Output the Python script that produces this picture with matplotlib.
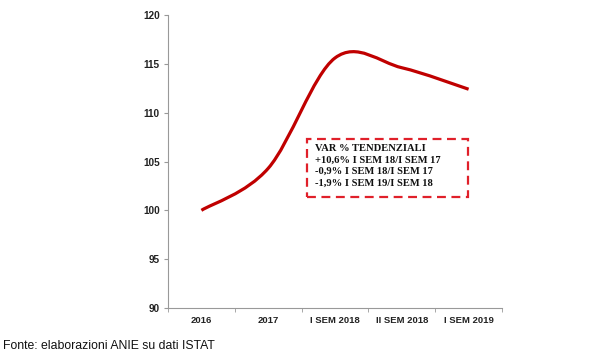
import numpy as np
import matplotlib
matplotlib.use("Agg")
import matplotlib.pyplot as plt
from matplotlib.path import Path
from matplotlib.patches import PathPatch, Rectangle

categories = ["2016", "2017", "I SEM 2018", "II SEM 2018", "I SEM 2019"]
values = [100.0, 104.3, 115.6, 114.6, 112.4]
yticks = [90, 95, 100, 105, 110, 115, 120]
box_lines = ["VAR % TENDENZIALI",
             "+10,6% I SEM 18/I SEM 17",
             "-0,9% I SEM 18/I SEM 17",
             "-1,9% I SEM 19/I SEM 18"]
source = "Fonte: elaborazioni ANIE su dati ISTAT"

fig = plt.figure(figsize=(6.02, 3.53), dpi=100)
ax = fig.add_axes([168/602, 1-308/353, (502-168)/602, (308-15)/353])

# Smoothed line (Catmull-Rom as Bezier, like Excel smoothing)
x = np.arange(len(values), dtype=float)
y = np.array(values)
P = np.column_stack([x, y])
verts = [tuple(P[0])]
codes = [Path.MOVETO]
n = len(P)
for i in range(n - 1):
    p0 = P[i-1] if i > 0 else P[i]
    p1 = P[i]
    p2 = P[i+1]
    p3 = P[i+2] if i + 2 < n else P[i+1]
    c1 = p1 + (p2 - p0) / 6
    c2 = p2 - (p3 - p1) / 6
    verts += [tuple(c1), tuple(c2), tuple(p2)]
    codes += [Path.CURVE4] * 3
ax.add_patch(PathPatch(Path(verts, codes), facecolor="none",
                       edgecolor="#C00000", lw=2.3, capstyle="butt"))

ax.set_xlim(-0.5, len(categories) - 0.5)
ax.set_ylim(90, 120)
ax.set_yticks(yticks)
ax.set_yticklabels([str(t) for t in yticks], fontsize=7.2, fontweight="bold",
                   family="Liberation Sans", color="#222222")
ax.set_xticks(x)
ax.set_xticklabels(categories, fontsize=6.8, fontweight="bold",
                   family="Liberation Sans", color="#222222")
ax.set_xticks(np.arange(-0.5, len(categories)), minor=True)
ax.tick_params(axis="x", which="major", length=0, pad=6)
ax.tick_params(axis="x", which="minor", length=3, color="#999999", direction="out")
ax.tick_params(axis="y", length=3, color="#999999", pad=3)
for s in ["top", "right"]:
    ax.spines[s].set_visible(False)
for s in ["left", "bottom"]:
    ax.spines[s].set_color("#999999")
    ax.spines[s].set_linewidth(0.8)

# annotation box (figure pixel coordinates)
x0, y0, x1, y1 = 307, 139, 468, 197
rect = Rectangle((x0/602, 1-y1/353), (x1-x0)/602, (y1-y0)/353,
                 transform=fig.transFigure, facecolor="white",
                 edgecolor="#E0202A", lw=1.6, ls=(0, (4, 2.5)))
fig.add_artist(rect)
fig.text(315/602, 1-144/353, "\n".join(box_lines), fontsize=7.6,
         fontweight="bold", family="Liberation Serif", color="#111111",
         va="top", ha="left", linespacing=1.36)

fig.text(3/602, 1-346/353, source, fontsize=8.8, family="Liberation Sans",
         color="#111111", va="center", ha="left")

fig.savefig("out.png", dpi=100, facecolor="white")
